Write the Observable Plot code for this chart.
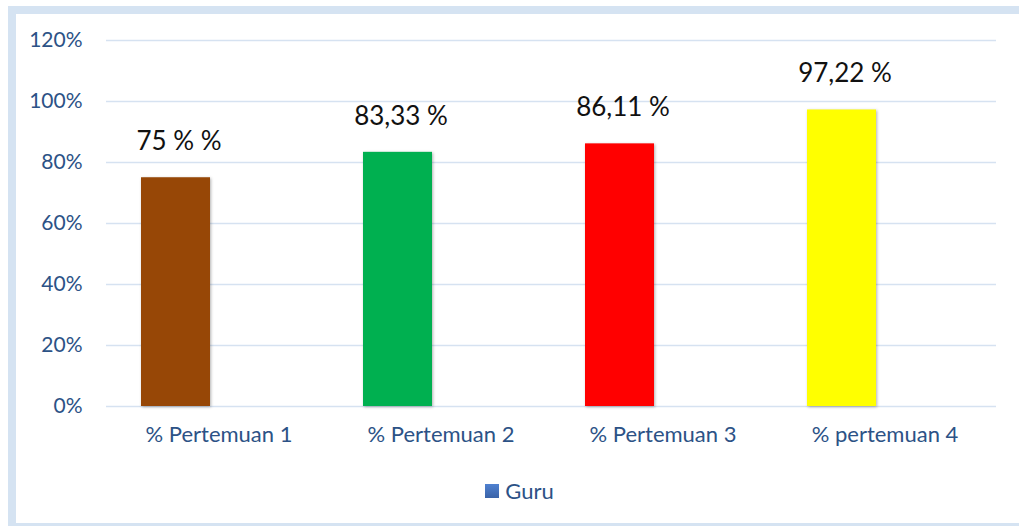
<!DOCTYPE html>
<html>
<head>
<meta charset="utf-8">
<script src="https://cdn.jsdelivr.net/npm/d3@7"></script>
<script src="https://cdn.jsdelivr.net/npm/@observablehq/plot@0.6"></script>
<style>
  html, body { margin: 0; padding: 0; background: #fff; overflow: hidden; width: 1019px; height: 526px; }
  #frame {
    position: absolute; left: 8px; top: 6px;
    width: 1003px; height: 509px;
    border: 8px solid #d5e3f2;
    background: #fff;
    font-family: Lato, "Open Sans", sans-serif;
  }
  #chart { position: absolute; left: 0; top: 0; }
  #legend {
    position: absolute; left: 0; top: 463px; width: 1003px;
    display: flex; justify-content: center; align-items: center;
    font-family: Lato, sans-serif; font-size: 22px; color: #2c5286;
  }
  #legend .sw { width: 14px; height: 14px; background: linear-gradient(#4f81d0, #3a63a8); margin-right: 6px; margin-left: 4px; }
  g[aria-label="bar"] { filter: drop-shadow(1.5px 1.5px 1.5px rgba(0,0,0,0.3)); }
</style>
</head>
<body>
<div id="frame">
  <div id="chart"></div>
  <div id="legend"><div class="sw"></div><span>Guru</span></div>
</div>
<script>
const categories = ["% Pertemuan 1", "% Pertemuan 2", "% Pertemuan 3", "% pertemuan 4"];
const values = [75, 83.33, 86.11, 97.22];
const valueLabels = ["75 % %", "83,33 %", "86,11 %", "97,22 %"];
const barColors = ["#974706", "#00b050", "#ff0000", "#ffff00"];
const yTicks = [0, 20, 40, 60, 80, 100, 120];
const seriesName = "Guru";

const data = categories.map((c, i) => ({cat: c, value: values[i], label: valueLabels[i], color: barColors[i]}));

const chart = Plot.plot({
  width: 1003,
  height: 460,
  marginLeft: 90,
  marginRight: 23,
  marginTop: 26,
  marginBottom: 68,
  style: {fontFamily: "Lato, 'Open Sans', sans-serif", background: "transparent", overflow: "visible"},
  x: {domain: categories, paddingInner: 0.69, paddingOuter: 0.345, label: null},
  y: {domain: [0, 120], ticks: yTicks, label: null},
  marks: [
    Plot.ruleY(yTicks, {stroke: "#d6e2f1", strokeWidth: 1.5}),
    Plot.axisY(yTicks, {tickSize: 0, tickPadding: 24, tickFormat: d => d + "%", fontSize: 21, fill: "#2c5286", label: null}),
    Plot.axisX({tickSize: 0, tickPadding: 20, fontSize: 22, fill: "#2c5286", label: null}),
    Plot.barY(data, {x: "cat", y: "value", fill: "color", dx: -43}),
    Plot.text(data, {x: "cat", y: "value", text: "label", dx: -40, dy: -36, fontSize: 26, fill: "#111"})
  ]
});
document.getElementById("chart").appendChild(chart);
document.querySelector("#legend span").textContent = seriesName;
</script>
</body>
</html>
